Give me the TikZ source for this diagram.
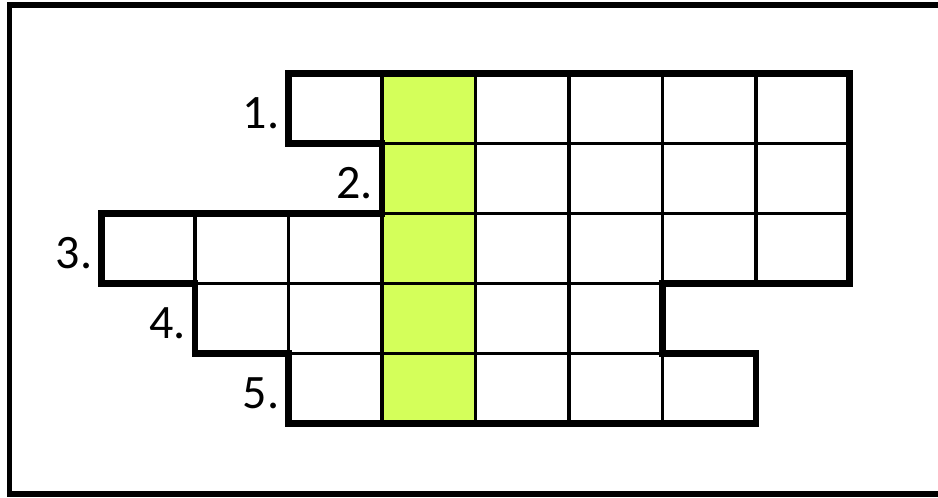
\documentclass[tikz,border=0pt]{standalone}
\usepackage{fontspec}
\setmainfont{Carlito}
\definecolor{cwgreen}{RGB}{212,255,90}
\begin{document}
\begin{tikzpicture}[x=0.75pt,y=-0.75pt,
  cell/.style={draw=black,line width=2.6pt,minimum width=70.125pt,minimum height=52.5pt,inner sep=0pt,outer sep=0pt,fill=white},
  keycell/.style={cell,fill=cwgreen},
  outline/.style={draw=black,line width=4.9pt,line join=miter},
  frame/.style={draw=black,line width=3.8pt},
  num/.style={anchor=base east,inner sep=0pt,font=\fontsize{36}{40}\selectfont}]
\useasboundingbox (0,0) rectangle (938,497);
\clip (0,0) rectangle (938,497);
\draw[frame] (9.5,5) rectangle (945,494);
\foreach \r/\a/\b in {1/3/8,2/4/8,3/1/8,4/2/6,5/3/7}{
  \foreach \i in {\a,...,\b}{
    \ifnum\i=4
      \node[keycell] (c\r-\i) at ({101.5+93.5*(\i-0.5)},{73.5+70*(\r-0.5)}) {};
    \else
      \node[cell] (c\r-\i) at ({101.5+93.5*(\i-0.5)},{73.5+70*(\r-0.5)}) {};
    \fi
  }
  \node[num] (l\r) at ({101.5+93.5*(\a-1)-9},{73.5+70*(\r-0.5)+19.5}) {\r.};
}
\draw[outline] (288.5,73.5) -- (849.5,73.5) -- (849.5,283.5) -- (662.5,283.5)
  -- (662.5,353.5) -- (756,353.5) -- (756,423.5) -- (288.5,423.5) -- (288.5,353.5)
  -- (195,353.5) -- (195,283.5) -- (101.5,283.5) -- (101.5,213.5) -- (382,213.5)
  -- (382,143.5) -- (288.5,143.5) -- cycle;
\end{tikzpicture}
\end{document}
